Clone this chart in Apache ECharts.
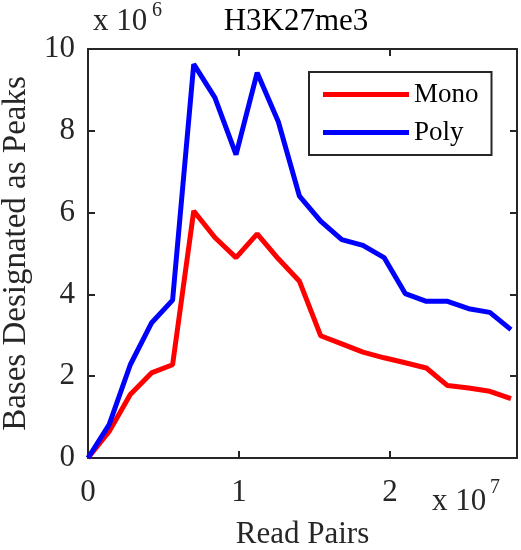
<!DOCTYPE html>
<html>
<head>
<meta charset="utf-8">
<script src="https://cdn.jsdelivr.net/npm/echarts@6/dist/echarts.min.js"></script>
<style>html,body{margin:0;padding:0;background:#fff}#c{width:521px;height:550px}</style>
</head>
<body>
<div id="c"></div>
<script>
var readPairs = [0, 1400000, 2800000, 4200000, 5600000, 7000000, 8400000, 9800000, 11200000, 12600000, 14000000, 15400000, 16800000, 18200000, 19600000, 21000000, 22400000, 23800000, 25200000, 26600000, 28000000];
var mono = [0, 650000, 1550000, 2080000, 2280000, 6040000, 5390000, 4900000, 5480000, 4870000, 4320000, 2990000, 2790000, 2590000, 2450000, 2330000, 2200000, 1770000, 1710000, 1630000, 1450000];
var poly = [0, 815000, 2280000, 3300000, 3860000, 9630000, 8810000, 7420000, 9420000, 8220000, 6400000, 5790000, 5340000, 5200000, 4900000, 4020000, 3830000, 3830000, 3650000, 3560000, 3140000];
var seriesNames = ['Mono', 'Poly'];
var xTickLabels = ['0', '1', '2'];
var yTickLabels = ['0', '2', '4', '6', '8', '10'];
var titleText = 'H3K27me3';
var xName = 'Read Pairs';
var yName = 'Bases Designated as Peaks';

var FONT = '"Liberation Serif", "Times New Roman", serif';
var AX = '#262626';
function pairs(xs, ys){ return xs.map(function(x,i){ return [x, ys[i]]; }); }

var chart = echarts.init(document.getElementById('c'), null, {renderer:'canvas'});
var xMax = 28400000, yMax = 10000000;
function xAxisCfg(pos, show){
  return {
    type:'value', position:pos, min:0, max:xMax, interval:10000000,
    axisLine:{show:true, onZero:false, lineStyle:{color:AX, width:2}},
    axisTick:{show:true, inside:true, length:7, lineStyle:{color:AX, width:2}},
    splitLine:{show:false},
    axisLabel:{show:show, margin:19, color:AX, fontFamily:FONT, fontSize:31,
      formatter:function(v){ var k = Math.round(v/10000000); return (Math.abs(v - k*10000000) < 1 && xTickLabels[k] !== undefined) ? xTickLabels[k] : ''; }},
    name: show ? xName : '', nameLocation:'middle', nameGap:61,
    nameTextStyle:{color:AX, fontFamily:FONT, fontSize:31}
  };
}
function yAxisCfg(pos, show){
  return {
    type:'value', position:pos, min:0, max:yMax, interval:2000000,
    axisLine:{show:true, onZero:false, lineStyle:{color:AX, width:2}},
    axisTick:{show:true, inside:true, length:7, lineStyle:{color:AX, width:2}},
    splitLine:{show:false},
    axisLabel:{show:show, margin:13, color:AX, fontFamily:FONT, fontSize:31,
      formatter:function(v){ var k = Math.round(v/2000000); return yTickLabels[k] !== undefined ? yTickLabels[k] : ''; }},
    name: show ? yName : '', nameLocation:'middle', nameGap:51,
    nameTextStyle:{color:AX, fontFamily:FONT, fontSize:33}
  };
}

chart.setOption({
  animation:false,
  backgroundColor:'#fff',
  grid:{left:88, right:4, top:49, bottom:92, containLabel:false, outerBoundsMode:'none'},
  xAxis:[xAxisCfg('bottom', true), xAxisCfg('top', false)],
  yAxis:[yAxisCfg('left', true), yAxisCfg('right', false)],
  legend:{
    orient:'vertical', left:309, top:72, padding:[9,13,9,14], itemGap:11,
    itemWidth:86, itemHeight:5, icon:'rect',
    borderColor:AX, borderWidth:2, backgroundColor:'#fff',
    textStyle:{color:'#000', fontFamily:FONT, fontSize:27},
    data:seriesNames
  },
  series:[
    {name:seriesNames[0], type:'line', data:pairs(readPairs, mono), symbol:'none', color:'#ff0000', lineStyle:{width:5, color:'#ff0000'}, z:2},
    {name:seriesNames[1], type:'line', data:pairs(readPairs, poly), symbol:'none', color:'#0000ff', lineStyle:{width:5, color:'#0000ff'}, z:3}
  ],
  graphic:[
    {type:'text', x:296, y:22, style:{text:titleText, fill:'#000', font:'31px ' + FONT, align:'center', verticalAlign:'middle'}},
    {type:'text', x:93, y:22, style:{text:'x 10', fill:AX, font:'31px ' + FONT, align:'left', verticalAlign:'middle'}},
    {type:'text', x:152, y:11, style:{text:'6', fill:AX, font:'20px ' + FONT, align:'left', verticalAlign:'middle'}},
    {type:'text', x:432, y:502, style:{text:'x 10', fill:AX, font:'31px ' + FONT, align:'left', verticalAlign:'middle'}},
    {type:'text', x:490, y:488, style:{text:'7', fill:AX, font:'20px ' + FONT, align:'left', verticalAlign:'middle'}}
  ]
});
</script>
</body>
</html>
